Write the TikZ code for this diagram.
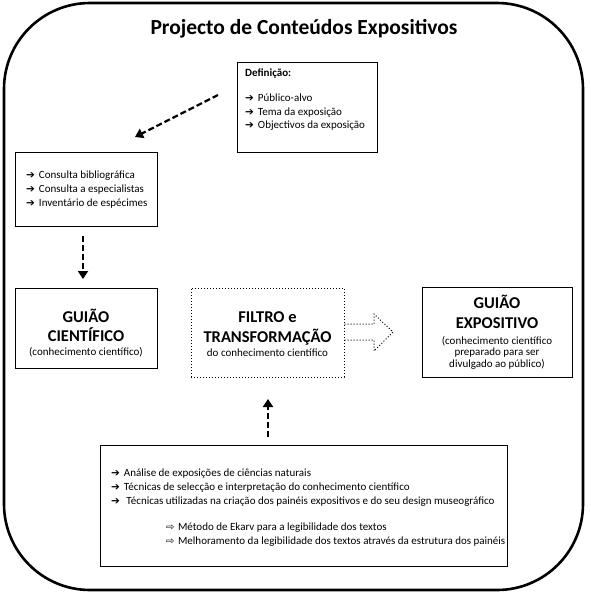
\documentclass[tikz,border=0pt]{standalone}
\usepackage{fontspec}
\setmainfont{Carlito}
\newfontfamily\symf{DejaVu Sans}
\usetikzlibrary{arrows.meta}
\newcommand{\blk}{{\symf\fontsize{10.5}{10}\selectfont ➔}\hspace{4pt}}
\newcommand{\hol}{{\symf\fontsize{10}{10}\selectfont ⇨}\hspace{3.5pt}}
\begin{document}
\begin{tikzpicture}[x=1pt,y=-1pt,
  box/.style={draw, line width=1pt, inner sep=0pt},
  dotbox/.style={draw, line width=1pt, dotted, inner sep=0pt},
  txt/.style={font=\fontsize{11}{13.5}\selectfont, inner sep=0pt, anchor=base west},
  small/.style={font=\fontsize{11}{11.5}\selectfont, inner sep=0pt, anchor=base},
  big/.style={font=\bfseries\fontsize{16.5}{19}\selectfont, inner sep=0pt, anchor=base},
  darrow/.style={line width=2.2pt, dash pattern=on 6pt off 3pt, -{Triangle[length=8pt,width=10pt]}}
]
\useasboundingbox (0,0) rectangle (591,606);
\draw[line width=2.6pt, rounded corners=86pt] (4,3) rectangle (583,590);
\node[font=\bfseries\fontsize{21.5}{24}\selectfont, inner sep=0pt, anchor=base] (title) at (304,34) {Projecto de Conteúdos Expositivos};

% Definicao box
\node[box, minimum width=140pt, minimum height=90pt] (def) at (307,107) {};
\node[txt] (def0) at (245,76.5) {\textbf{Definição:}};
\node[txt] (def1) at (245,101.5) {\blk Público-alvo};
\node[txt] (def2) at (245,115) {\blk Tema da exposição};
\node[txt] (def3) at (245,128.5) {\blk Objectivos da exposição};

% Consulta box
\node[box, minimum width=142pt, minimum height=74pt] (cons) at (86,189) {};
\node[txt] (cons1) at (26,178.5) {\blk Consulta bibliográfica};
\node[txt] (cons2) at (26,192.5) {\blk Consulta a especialistas};
\node[txt] (cons3) at (26,206.5) {\blk Inventário de espécimes};

% Guiao cientifico
\node[box, minimum width=142pt, minimum height=80pt] (gc) at (86,328) {};
\node[big] (gc1) at (86,322.5) {GUIÃO};
\node[big] (gc2) at (86,341.5) {CIENTÍFICO};
\node[small] (gc3) at (86,355.5) {(conhecimento científico)};

% Filtro
\node[dotbox, minimum width=153pt, minimum height=89pt] (ft) at (267.5,332.5) {};
\node[big] (ft1) at (267.5,322.5) {FILTRO e};
\node[big] (ft2) at (267.5,342) {TRANSFORMAÇÃO};
\node[small] (ft3) at (267.5,356.5) {do conhecimento científico};

% hollow arrow
\coordinate (ha1) at (ft.east |- 0,324);
\coordinate (ha7) at (ft.east |- 0,340);
\draw[line width=1pt, dotted] (ha1) -- (374,324) -- (374,314) -- (393,332) -- (374,351) -- (374,340) -- (ha7);

% Guiao expositivo
\node[box, minimum width=150pt, minimum height=90pt] (ge) at (497,332) {};
\node[big] (ge1) at (497,308.5) {GUIÃO};
\node[big] (ge2) at (497,328.5) {EXPOSITIVO};
\node[small] (ge3) at (497,344) {(conhecimento científico};
\node[small] (ge4) at (497,355.5) {preparado para ser};
\node[small] (ge5) at (497,367) {divulgado ao público)};

% bottom box
\node[box, minimum width=407pt, minimum height=121pt] (bot) at (303.5,505.5) {};
\node[txt] (bot1) at (111,476.5) {\blk Análise de exposições de ciências naturais};
\node[txt] (bot2) at (111,490.5) {\blk Técnicas de selecção e interpretação do conhecimento científico};
\node[txt] (bot3) at (111,504.5) {\blk\ Técnicas utilizadas na criação dos painéis expositivos e do seu design museográfico};
\node[txt] (bot4) at (166,530.5) {\hol Método de Ekarv para a legibilidade dos textos};
\node[txt] (bot5) at (166,544) {\hol Melhoramento da legibilidade dos textos através da estrutura dos painéis};

% dashed arrows
\coordinate (a1s) at (218,95);
\coordinate (a1e) at (135,137);
\draw[darrow] (a1s) -- (a1e);
\coordinate (a2s) at (83,236);
\coordinate (a2e) at (83,279);
\draw[darrow] (a2s) -- (a2e);
\coordinate (a3s) at (268,437);
\coordinate (a3e) at (268,399);
\draw[darrow] (a3s) -- (a3e);
\end{tikzpicture}
\end{document}
